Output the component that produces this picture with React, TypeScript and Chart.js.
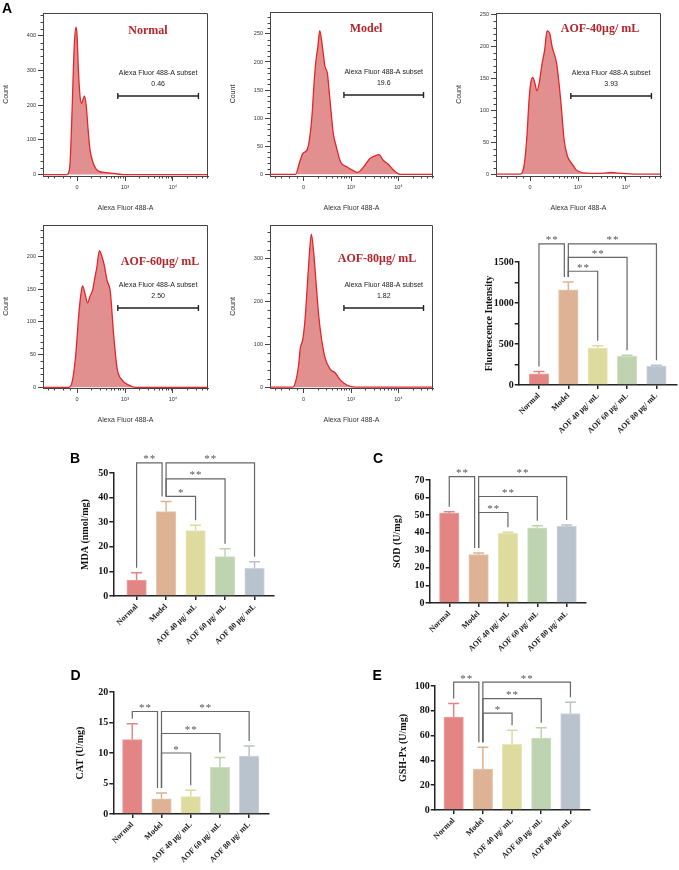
import React, { useEffect, useRef } from 'react';
import { Chart, registerables } from 'chart.js';
Chart.register(...registerables);

const SERIF = "'Liberation Serif', 'Times New Roman', serif";
const SANS = "'Liberation Sans', Arial, 'DejaVu Sans', sans-serif";

// ---------------- Panel A: flow cytometry histograms ----------------
const FLOW_TITLES = ['Normal', 'Model', 'AOF-40μg/ mL', 'AOF-60μg/ mL', 'AOF-80μg/ mL'];
const SUBSET_LABEL = 'Alexa Fluor 488-A subset';
const SUBSET_VALUES = ['0.46', '19.6', '3.93', '2.50', '1.82'];
const FLOW_X_TITLE = 'Alexa Fluor 488-A';
const FLOW_Y_TITLE = 'Count';
const FLOW_X_TICKS = [0, 1, 2];
const FLOW_X_TICK_LABELS = ['0', '10³', '10⁴'];
const FLOW_X_RANGE = [-0.71, 2.73];
const GATE_RANGE = [0.85, 2.53];
const DECADE_FRACTIONS = [2, 3, 4, 5, 6, 7, 8, 9].map((k) => Math.log10(k));
const FLOW_X_MINOR = [-0.6, -0.48, -0.3, -0.15, ...[0, 1, 2].flatMap((d) => DECADE_FRACTIONS.map((f) => d + f))].filter(
  (v) => v < FLOW_X_RANGE[1]
);

const NORMAL_X = [-0.71, -0.22, -0.17, -0.146, -0.11, -0.077, -0.056, -0.02, 0.0, 0.028, 0.063, 0.097, 0.13, 0.153, 0.19, 0.23, 0.27, 0.34, 0.445, 0.6, 0.8, 0.97, 2.73];
const NORMAL_Y = [0, 0, 8, 32, 157, 301, 378, 424, 400, 301, 224, 205, 218, 226, 200, 130, 71, 32, 10, 6, 3, 0, 0];

const MODEL_X = [-0.71, -0.173, -0.09, -0.02, 0.07, 0.12, 0.175, 0.22, 0.257, 0.3, 0.34, 0.396, 0.45, 0.5, 0.556, 0.625, 0.69, 0.78, 0.92, 1.056, 1.146, 1.216, 1.3, 1.4, 1.51, 1.59, 1.68, 1.785, 1.89, 2.03, 2.73];
const MODEL_Y = [0, 0, 20, 37, 43, 61, 103, 162, 200, 227, 256, 227, 192, 180, 132, 73, 49, 22, 13, 6, 3.5, 8, 17, 28, 33, 35, 25, 18, 8, 0, 0];

const AOF40_X = [-0.71, -0.2, -0.128, -0.07, -0.02, 0.014, 0.057, 0.1, 0.142, 0.19, 0.248, 0.305, 0.355, 0.41, 0.46, 0.553, 0.638, 0.71, 0.78, 0.887, 0.957, 1.1, 1.5, 1.7, 1.85, 2.23, 2.73];
const AOF40_Y = [0, 0, 12, 54, 117, 143, 152, 143, 131, 143, 172, 195, 225, 221, 200, 174, 117, 54, 28, 15, 7, 2, 1, 2.5, 1.5, 0, 0];

const AOF60_X = [-0.71, -0.17, -0.1, -0.028, 0.036, 0.078, 0.114, 0.163, 0.22, 0.27, 0.326, 0.375, 0.41, 0.466, 0.517, 0.566, 0.623, 0.693, 0.763, 0.835, 0.94, 1.08, 1.22, 2.73];
const AOF60_Y = [0, 0, 9, 49, 111, 141, 155, 144, 129, 139, 149, 169, 182, 209, 200, 187, 164, 146, 80, 29, 11, 3.5, 0, 0];

const AOF80_X = [-0.71, -0.23, -0.16, -0.105, -0.07, -0.02, 0.02, 0.07, 0.12, 0.162, 0.21, 0.26, 0.316, 0.386, 0.456, 0.56, 0.667, 0.77, 0.912, 1.09, 2.73];
const AOF80_Y = [0, 0, 17, 52, 91, 110, 145, 222, 308, 356, 315, 246, 168, 106, 67, 42, 33, 17, 5, 0, 0];

const FLOW_XS = [NORMAL_X, MODEL_X, AOF40_X, AOF60_X, AOF80_X];
const FLOW_YS = [NORMAL_Y, MODEL_Y, AOF40_Y, AOF60_Y, AOF80_Y];
const FLOW_Y_TICKS = [
  [0, 100, 200, 300, 400],
  [0, 50, 100, 150, 200, 250],
  [0, 50, 100, 150, 200, 250],
  [0, 50, 100, 150, 200],
  [0, 100, 200, 300],
];
const FLOW_Y_MAX = [465, 289, 253, 248, 377];
const FLOW_Y_MIN = [-4, -3, -3, -1, -2];

// ---------------- Bar panels ----------------
const GROUPS = ['Normal', 'Model', 'AOF 40 μg/ mL', 'AOF 60 μg/ mL', 'AOF 80 μg/ mL'];

const FI_MEAN = [135, 1160, 450, 350, 230];
const FI_SD = [30, 95, 30, 12, 12];
const FI_TICKS = [0, 500, 1000, 1500];
const FI_MINOR = [250, 750, 1250];
const FI_BRACKETS: [number, number, number, string][] = [[0, 1, 1720, '**'], [1, 4, 1720, '**'], [1, 3, 1557, '**'], [1, 2, 1387, '**']];

const MDA_MEAN = [6.5, 34.3, 26.6, 16, 11.2];
const MDA_SD = [3, 4.1, 2.2, 3.2, 2.7];
const MDA_TICKS = [0, 10, 20, 30, 40, 50];
const MDA_BRACKETS: [number, number, number, string][] = [[0, 1, 54.1, '**'], [1, 4, 54.1, '**'], [1, 3, 47.6, '**'], [1, 2, 40.5, '*']];

const SOD_MEAN = [51.2, 27.5, 39.6, 42.8, 43.6];
const SOD_SD = [0.7, 1, 0.7, 1.1, 0.8];
const SOD_TICKS = [0, 10, 20, 30, 40, 50, 60, 70];
const SOD_BRACKETS: [number, number, number, string][] = [[0, 1, 71.9, '**'], [1, 4, 71.9, '**'], [1, 3, 60.6, '**'], [1, 2, 51.5, '**']];

const CAT_MEAN = [12.2, 2.5, 2.85, 7.65, 9.5];
const CAT_SD = [2.6, 0.95, 1.05, 1.6, 1.65];
const CAT_TICKS = [0, 5, 10, 15, 20];
const CAT_BRACKETS: [number, number, number, string][] = [[0, 1, 16.8, '**'], [1, 4, 16.8, '**'], [1, 3, 13.2, '**'], [1, 2, 10.0, '*']];

const GSH_MEAN = [75, 33, 53, 58, 77.8];
const GSH_SD = [10.8, 17.7, 11.3, 8.4, 9];
const GSH_TICKS = [0, 20, 40, 60, 80, 100];
const GSH_BRACKETS: [number, number, number, string][] = [[0, 1, 103.2, '**'], [1, 4, 103.2, '**'], [1, 3, 89.8, '**'], [1, 2, 78.1, '*']];

// ---------------- styles / layout ----------------
const BAR_COLORS = ['#e28584', '#deb294', '#dedb9f', '#bed4b1', '#b9c3cd'];
const BAR_EDGES = ['#eba3a2', '#e7c6ae', '#e8e6bb', '#d0e0c6', '#cdd4db'];

type Area = { L: number; T: number; R: number; B: number };
type Region = { x: number; y: number; w: number; h: number };

const FLOW_AREAS: Area[] = [
  { L: 43, T: 13, R: 208, B: 176 },
  { L: 270, T: 12, R: 433, B: 176 },
  { L: 496, T: 13, R: 661, B: 176 },
  { L: 43, T: 225, R: 208, B: 388 },
  { L: 270, T: 225, R: 433, B: 388 },
];
const FLOW_TITLE_POS = [[105, 18], [96, 17], [104, 16], [117, 37], [107, 34]];

function flowRegion(a: Area): Region {
  const x = a.L - 43;
  const y = a.T - 13;
  return { x, y, w: Math.min(a.R - a.L + 55, 679 - x), h: a.B - a.T + 52 };
}

type BarPanel = {
  mean: number[]; sd: number[]; ticks: number[]; minor: number[]; title: string;
  brackets: [number, number, number, string][]; area: Area; xRange: number[]; titleX: number;
};

const BAR_PANELS: BarPanel[] = [
  { mean: FI_MEAN, sd: FI_SD, ticks: FI_TICKS, minor: FI_MINOR, title: 'Fluorescence Intensity', brackets: FI_BRACKETS, area: { L: 519, T: 262.3, R: 676.7, B: 385.7 }, xRange: [-0.69, 4.69], titleX: 489.3 },
  { mean: MDA_MEAN, sd: MDA_SD, ticks: MDA_TICKS, minor: [], title: 'MDA (nmol/mg)', brackets: MDA_BRACKETS, area: { L: 113.3, T: 473.3, R: 274.3, B: 596.7 }, xRange: [-0.79, 4.66], titleX: 85 },
  { mean: SOD_MEAN, sd: SOD_SD, ticks: SOD_TICKS, minor: [], title: 'SOD (U/mg)', brackets: SOD_BRACKETS, area: { L: 429.3, T: 480, R: 586, B: 603.3 }, xRange: [-0.67, 4.66], titleX: 396.7 },
  { mean: CAT_MEAN, sd: CAT_SD, ticks: CAT_TICKS, minor: [], title: 'CAT (U/mg)', brackets: CAT_BRACKETS, area: { L: 113.3, T: 691.7, R: 269.3, B: 814 }, xRange: [-0.65, 4.68], titleX: 80 },
  { mean: GSH_MEAN, sd: GSH_SD, ticks: GSH_TICKS, minor: [], title: 'GSH-Px (U/mg)', brackets: GSH_BRACKETS, area: { L: 435, T: 685.7, R: 590.7, B: 809.3 }, xRange: [-0.65, 4.67], titleX: 403.3 },
];

function barRegion(p: BarPanel): Region {
  const x = p.titleX - 8;
  const y = p.area.T - 60;
  return { x, y, w: Math.min(p.area.R + 8, 679) - x, h: p.area.B - p.area.T + 60 + 62 };
}

function makeFlow(canvas: HTMLCanvasElement, i: number): Chart {
  const a = FLOW_AREAS[i];
  const r = flowRegion(a);
  const yTicks = FLOW_Y_TICKS[i];
  const step = yTicks[1] - yTicks[0];
  const tickFont = { family: SANS, size: 5.5 };
  const titleFont = { family: SANS, size: 7 };
  const decor = {
    id: 'flowDecor' + i,
    afterDraw(chart: any) {
      const { ctx, chartArea: c, scales } = chart;
      const xs = scales.x, ys = scales.y;
      ctx.save();
      ctx.strokeStyle = '#444';
      ctx.lineWidth = 1;
      ctx.beginPath();
      ctx.moveTo(c.left, c.top + 0.5);
      ctx.lineTo(c.right - 0.5, c.top + 0.5);
      ctx.lineTo(c.right - 0.5, c.bottom);
      ctx.stroke();
      // minor ticks
      ctx.beginPath();
      FLOW_X_MINOR.forEach((v) => {
        const px = Math.round(xs.getPixelForValue(v)) + 0.5;
        ctx.moveTo(px, c.bottom);
        ctx.lineTo(px, c.bottom + 2.5);
      });
      for (let v = step / 5; v < FLOW_Y_MAX[i]; v += step / 5) {
        if (Math.abs(v / step - Math.round(v / step)) < 1e-6) continue;
        const py = Math.round(ys.getPixelForValue(v)) + 0.5;
        ctx.moveTo(c.left - 2.5, py);
        ctx.lineTo(c.left, py);
      }
      ctx.stroke();
      // gate
      const gy = c.top + 83;
      const g0 = xs.getPixelForValue(GATE_RANGE[0]);
      const g1 = xs.getPixelForValue(GATE_RANGE[1]);
      ctx.strokeStyle = '#222';
      ctx.lineWidth = 1.4;
      ctx.beginPath();
      ctx.moveTo(g0, gy); ctx.lineTo(g1, gy);
      ctx.moveTo(g0, gy - 3); ctx.lineTo(g0, gy + 3);
      ctx.moveTo(g1, gy - 3); ctx.lineTo(g1, gy + 3);
      ctx.stroke();
      ctx.fillStyle = '#222';
      ctx.font = `7px ${SANS}`;
      ctx.textAlign = 'center';
      ctx.textBaseline = 'middle';
      const gm = (g0 + g1) / 2;
      ctx.fillText(SUBSET_LABEL, gm, gy - 23);
      ctx.fillText(SUBSET_VALUES[i], gm, gy - 12);
      // title
      ctx.fillStyle = '#b5252b';
      ctx.font = `bold 12px ${SERIF}`;
      ctx.fillText(FLOW_TITLES[i], c.left + FLOW_TITLE_POS[i][0], c.top + FLOW_TITLE_POS[i][1]);
      ctx.restore();
    },
  };
  return new Chart(canvas, {
    type: 'line',
    data: {
      datasets: [
        {
          data: FLOW_XS[i].map((x, k) => ({ x, y: FLOW_YS[i][k] })),
          borderColor: '#e3262b',
          borderWidth: 1.3,
          backgroundColor: 'rgba(212,96,96,0.7)',
          fill: 'origin',
          pointRadius: 0,
          cubicInterpolationMode: 'monotone',
        },
      ],
    },
    options: {
      responsive: false,
      animation: false,
      devicePixelRatio: 1,
      layout: { padding: { left: 0, top: a.T - r.y, right: r.x + r.w - a.R, bottom: 0 } },
      plugins: { legend: { display: false }, tooltip: { enabled: false } },
      scales: {
        x: {
          type: 'linear',
          bounds: 'data',
          min: FLOW_X_RANGE[0],
          max: FLOW_X_RANGE[1],
          afterBuildTicks: (s: any) => { s.ticks = FLOW_X_TICKS.map((v) => ({ value: v })); },
          afterFit: (s: any) => { s.height = r.y + r.h - a.B; s.paddingLeft = 0; s.paddingRight = 0; },
          ticks: {
            autoSkip: false, maxRotation: 0, minRotation: 0, padding: 3, color: '#333', font: tickFont,
            callback: (v: any) => FLOW_X_TICK_LABELS[FLOW_X_TICKS.indexOf(Number(v))] ?? '',
          },
          grid: { display: true, drawOnChartArea: false, drawTicks: true, tickLength: 5, color: '#444', lineWidth: 1 },
          border: { display: true, color: '#444', width: 1 },
          title: { display: true, text: FLOW_X_TITLE, color: '#333', font: titleFont, padding: { top: 0, bottom: 2.8 } },
        },
        y: {
          type: 'linear',
          bounds: 'data',
          min: FLOW_Y_MIN[i],
          max: FLOW_Y_MAX[i],
          afterBuildTicks: (s: any) => { s.ticks = yTicks.map((v) => ({ value: v })); },
          afterFit: (s: any) => { s.width = a.L - r.x; s.paddingTop = 0; s.paddingBottom = 0; },
          ticks: { padding: 2, color: '#333', font: tickFont, callback: (v: any) => String(v) },
          grid: { display: true, drawOnChartArea: false, drawTicks: true, tickLength: 5, color: '#444', lineWidth: 1 },
          border: { display: true, color: '#444', width: 1 },
          title: { display: true, text: FLOW_Y_TITLE, color: '#333', font: titleFont, padding: { top: 1.8, bottom: 0 } },
        },
      },
    },
    plugins: [decor],
  } as any);
}

function makeBar(canvas: HTMLCanvasElement, p: BarPanel): Chart {
  const a = p.area;
  const r = barRegion(p);
  const yMax = p.ticks[p.ticks.length - 1];
  const allTicks = [...p.ticks, ...p.minor].sort((u, v) => u - v);
  const decor = {
    id: 'barDecor',
    afterDatasetsDraw(chart: any) {
      const { ctx, scales } = chart;
      const xs = scales.x, ys = scales.y;
      ctx.save();
      // error bars (upper only)
      p.mean.forEach((m, i) => {
        const px = xs.getPixelForValue(i);
        const y0 = ys.getPixelForValue(m);
        const y1 = ys.getPixelForValue(m + p.sd[i]);
        ctx.strokeStyle = BAR_COLORS[i];
        ctx.lineWidth = 1.5;
        ctx.beginPath();
        ctx.moveTo(px, y0);
        ctx.lineTo(px, y1);
        ctx.moveTo(px - 5.5, y1);
        ctx.lineTo(px + 5.5, y1);
        ctx.stroke();
      });
      // significance brackets
      ctx.strokeStyle = '#666';
      ctx.lineWidth = 1.2;
      ctx.fillStyle = '#555';
      ctx.font = `11px ${SERIF}`;
      ctx.textAlign = 'center';
      ctx.textBaseline = 'alphabetic';
      try { (ctx as any).letterSpacing = '1px'; } catch (e) { /* ignore */ }
      p.brackets.forEach(([from, to, level, label]) => {
        const xa = xs.getPixelForValue(from);
        const xb = xs.getPixelForValue(to) - (from === 0 && to === 1 ? 4 : 0);
        const yl = ys.getPixelForValue(level);
        const ya = ys.getPixelForValue(p.mean[from] + p.sd[from]) - 5;
        const yb = ys.getPixelForValue(p.mean[to] + p.sd[to]) - 5;
        ctx.beginPath();
        ctx.moveTo(xa, ya);
        ctx.lineTo(xa, yl);
        ctx.lineTo(xb, yl);
        ctx.lineTo(xb, yb);
        ctx.stroke();
        ctx.fillText(label, (xa + xb) / 2 + 0.5, yl - 0.5);
      });
      ctx.restore();
    },
  };
  return new Chart(canvas, {
    type: 'bar',
    data: {
      datasets: [
        {
          data: p.mean.map((m, i) => ({ x: i, y: m })),
          backgroundColor: BAR_COLORS,
          borderColor: BAR_EDGES,
          borderWidth: 1,
          barThickness: 19.5,
        },
      ],
    },
    options: {
      responsive: false,
      animation: false,
      devicePixelRatio: 1,
      layout: { padding: { left: 0, top: a.T - r.y, right: r.x + r.w - a.R, bottom: 0 } },
      plugins: { legend: { display: false }, tooltip: { enabled: false } },
      scales: {
        x: {
          type: 'linear',
          bounds: 'data',
          offset: false,
          min: p.xRange[0],
          max: p.xRange[1],
          afterBuildTicks: (s: any) => { s.ticks = GROUPS.map((_, i) => ({ value: i })); },
          afterFit: (s: any) => { s.height = r.y + r.h - a.B; s.paddingLeft = 0; s.paddingRight = 0; },
          ticks: {
            autoSkip: false, minRotation: 45, maxRotation: 45, padding: 2, color: '#222',
            font: { family: SERIF, size: 8, weight: 'bold' },
            callback: (v: any) => GROUPS[Number(v)] ?? '',
          },
          grid: { display: true, offset: false, drawOnChartArea: false, drawTicks: true, tickLength: 4, color: '#222', lineWidth: 1.5 },
          border: { display: true, color: '#222', width: 1.5 },
        },
        y: {
          type: 'linear',
          bounds: 'data',
          min: 0,
          max: yMax,
          afterBuildTicks: (s: any) => { s.ticks = allTicks.map((v) => ({ value: v })); },
          afterFit: (s: any) => { s.width = a.L - r.x; s.paddingTop = 0; s.paddingBottom = 0; },
          ticks: {
            padding: 1, color: '#111', font: { family: SERIF, size: 10, weight: 'bold' },
            callback: (v: any) => (p.ticks.includes(Number(v)) ? String(v) : ''),
          },
          grid: { display: true, drawOnChartArea: false, drawTicks: true, tickLength: 4, color: '#222', lineWidth: 1.5 },
          border: { display: true, color: '#222', width: 1.5 },
          title: { display: true, text: p.title, color: '#111', font: { family: SERIF, size: 10, weight: 'bold' }, padding: { top: 2, bottom: 0 } },
        },
      },
    },
    plugins: [decor],
  } as any);
}

function ChartCanvas({ region, make }: { region: Region; make: (c: HTMLCanvasElement) => Chart }) {
  const ref = useRef<HTMLCanvasElement>(null);
  useEffect(() => {
    const chart = make(ref.current as HTMLCanvasElement);
    return () => chart.destroy();
  }, []);
  return (
    <canvas
      ref={ref}
      width={Math.round(region.w)}
      height={Math.round(region.h)}
      style={{ position: 'absolute', left: region.x, top: region.y, width: Math.round(region.w), height: Math.round(region.h) }}
    />
  );
}

const LETTERS: [string, number, number][] = [['A', 2, 0], ['B', 70, 450], ['C', 373, 450], ['D', 70.5, 667], ['E', 372.5, 667]];

export default function App() {
  return (
    <div style={{ position: 'absolute', left: 0, top: 0, width: 679, height: 870, overflow: 'hidden', background: '#fff' }}>
      {FLOW_AREAS.map((a, i) => (
        <ChartCanvas key={'f' + i} region={flowRegion(a)} make={(c) => makeFlow(c, i)} />
      ))}
      {BAR_PANELS.map((p, i) => (
        <ChartCanvas key={'b' + i} region={barRegion(p)} make={(c) => makeBar(c, p)} />
      ))}
      {LETTERS.map(([t, x, y]) => (
        <div key={t} style={{ position: 'absolute', left: x, top: y, font: `bold 14px 'Liberation Sans', Arial, sans-serif`, color: '#000' }}>
          {t}
        </div>
      ))}
    </div>
  );
}
